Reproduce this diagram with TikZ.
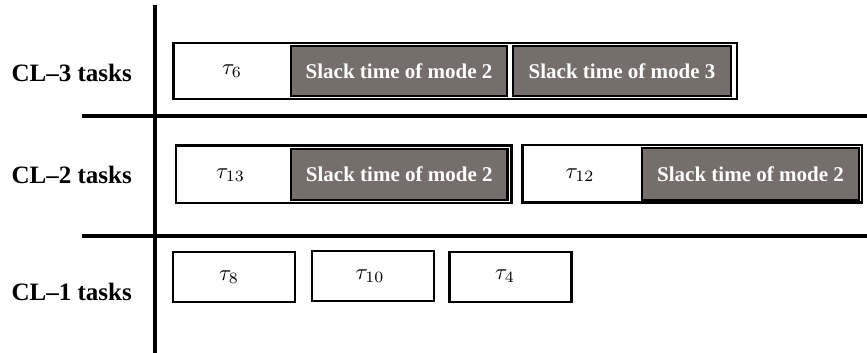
\documentclass[tikz,border=0pt]{standalone}
\usepackage{graphicx}
\usepackage{fontspec}
\setmainfont{Liberation Serif}
\definecolor{slackgrey}{RGB}{118,110,107}
\newcommand{\tsk}[1]{\scalebox{2.25}{$\tau_{#1}$}}
\begin{document}
\begin{tikzpicture}[x=1pt,y=-1pt,
  rowlabel/.style={anchor=base,font=\fontsize{25}{29}\selectfont\bfseries},
  frame/.style={draw=black,line width=2.2pt,inner sep=0pt,fill=white},
  slack/.style={draw=black,line width=2.2pt,inner sep=0pt,fill=slackgrey,text=white,font=\fontsize{21}{24}\selectfont\bfseries},
  taskbox/.style={draw=black,line width=2.5pt,inner sep=0pt,fill=white,minimum width=122pt,minimum height=50pt},
  tau/.style={inner sep=0pt},
  axis/.style={line width=3.5pt}]
\useasboundingbox (0,0) rectangle (867,353);
% axes
\coordinate (vtop) at (155,5);
\coordinate (vbot) at (155,353);
\coordinate (h1l) at (81.7,116);
\coordinate (h1r) at (867,116);
\coordinate (h2l) at (81.7,236);
\coordinate (h2r) at (867,236);
\draw[axis] (vtop) -- (vbot);
\draw[axis] (h1l) -- (h1r);
\draw[axis] (h2l) -- (h2r);
% labels
\node[rowlabel] (l3) at (71.7,81.7) {CL–3 tasks};
\node[rowlabel] (l2) at (71.7,183) {CL–2 tasks};
\node[rowlabel] (l1) at (71.7,300) {CL–1 tasks};
% CL-3 row
\node[frame,minimum width=563.5pt,minimum height=56pt] (f3) at (455.25,71) {};
\node[tau] (t6) at (232,71) {\tsk{6}};
\node[slack,minimum width=216pt,minimum height=50pt] (s3a) at (399,71) {Slack time of mode 2};
\node[slack,minimum width=218pt,minimum height=50pt] (s3b) at (622,71) {Slack time of mode 3};
% CL-2 row
\node[frame,minimum width=335.5pt,minimum height=57.5pt] (f2a) at (343.75,174.25) {};
\node[tau] (t13) at (230.5,175) {\tsk{13}};
\node[slack,minimum width=216.5pt,minimum height=51pt] (s2a) at (399.25,174.5) {Slack time of mode 2};
\node[frame,minimum width=339.5pt,minimum height=57.5pt] (f2b) at (692.25,173.75) {};
\node[tau] (t12) at (580,175) {\tsk{12}};
\node[slack,minimum width=217pt,minimum height=52pt] (s2b) at (750.5,174) {Slack time of mode 2};
% CL-1 row
\node[taskbox] (b8) at (233.85,277.15) {};
\node[tau] (t8) at (229,277) {\tsk{8}};
\node[taskbox] (b10) at (373.15,275.85) {};
\node[tau] (t10) at (370,276) {\tsk{10}};
\node[taskbox] (b4) at (510.7,277.15) {};
\node[tau] (t4) at (505,276) {\tsk{4}};
\end{tikzpicture}
\end{document}
